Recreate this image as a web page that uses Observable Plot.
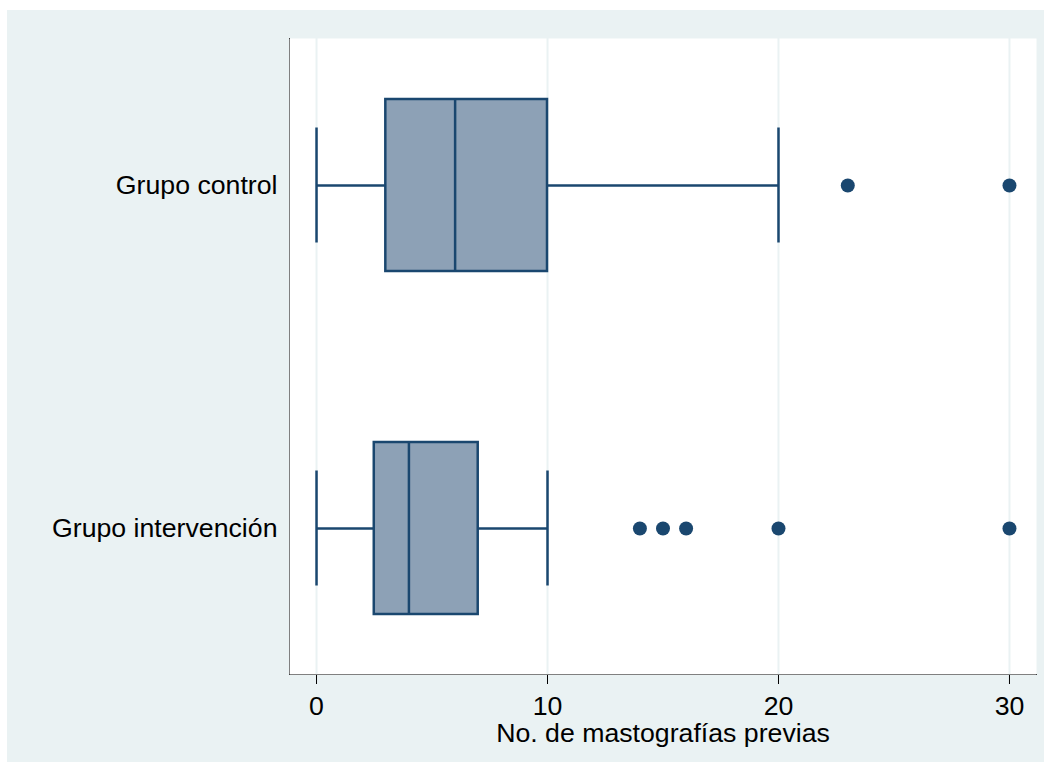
<!DOCTYPE html>
<html>
<head>
<meta charset="utf-8">
<script src="https://cdn.jsdelivr.net/npm/d3@7"></script>
<script src="https://cdn.jsdelivr.net/npm/@observablehq/plot@0.6"></script>
<style>
  html, body { margin: 0; padding: 0; background: #ffffff; }
  #panel { position: absolute; left: 7px; top: 10px; width: 1037px; height: 752px; background: #eaf2f3; }
  #panel svg { display: block; }
</style>
</head>
<body>
<div id="panel"></div>
<script>
// Data
const groups = ["Grupo control", "Grupo intervención"];
const lowWhisker = [0, 0];
const q1 = [3, 2.5];
const median = [6, 4];
const q3 = [10, 7];
const highWhisker = [20, 10];
const outliersControl = [23, 30];
const outliersIntervencion = [14, 15, 16, 20, 30];
const xTicks = [0, 10, 20, 30];
const xLabel = "No. de mastografías previas";

const boxes = groups.map((g, i) => ({
  group: g, lo: lowWhisker[i], q1: q1[i], med: median[i], q3: q3[i], hi: highWhisker[i]
}));
const outliers = [
  ...outliersControl.map(v => ({group: groups[0], value: v})),
  ...outliersIntervencion.map(v => ({group: groups[1], value: v}))
];

const navy = "#1a476f";
const fillBox = "#8da1b6";

const chart = Plot.plot({
  width: 1037,
  height: 752,
  marginLeft: 282,
  marginRight: 8,
  marginTop: 28,
  marginBottom: 88,
  style: {fontFamily: "Liberation Sans, Arial, sans-serif", fontSize: "26.7px", color: "#000", background: "transparent"},
  x: {domain: [-1.17, 31.17], ticks: xTicks, tickSize: 10, tickPadding: 12, line: true, label: xLabel, labelAnchor: "center", labelArrow: "none", labelOffset: 67},
  y: {domain: groups, paddingInner: 0.5, paddingOuter: 0.177, tickSize: 0, tickPadding: 12, line: true, label: null},
  marks: [
    Plot.frame({fill: "white", stroke: "none"}),
    Plot.gridX(xTicks, {stroke: "#eaf2f3", strokeOpacity: 1, strokeWidth: 2}),
    Plot.ruleY(boxes, {y: "group", x1: "lo", x2: "q1", stroke: navy, strokeWidth: 2.3}),
    Plot.ruleY(boxes, {y: "group", x1: "q3", x2: "hi", stroke: navy, strokeWidth: 2.3}),
    Plot.tickX(boxes, {y: "group", x: "lo", stroke: navy, strokeWidth: 2.5, insetTop: 28.5, insetBottom: 28.5}),
    Plot.tickX(boxes, {y: "group", x: "hi", stroke: navy, strokeWidth: 2.5, insetTop: 28.5, insetBottom: 28.5}),
    Plot.barX(boxes, {y: "group", x1: "q1", x2: "q3", fill: fillBox, stroke: navy, strokeWidth: 2.5}),
    Plot.tickX(boxes, {y: "group", x: "med", stroke: navy, strokeWidth: 2.5}),
    Plot.dot(outliers, {y: "group", x: "value", r: 7, fill: navy, stroke: "none"})
  ]
});
document.getElementById("panel").appendChild(chart);
</script>
</body>
</html>
